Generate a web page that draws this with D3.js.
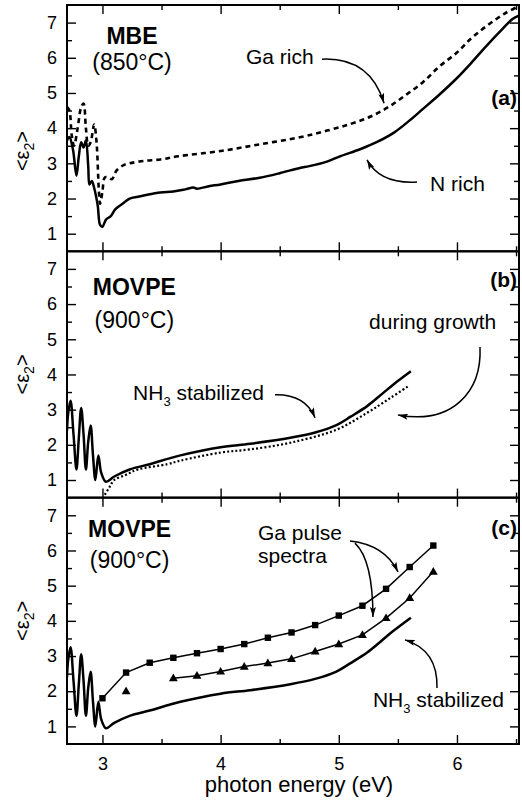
<!DOCTYPE html>
<html>
<head>
<meta charset="utf-8">
<script src="https://cdn.jsdelivr.net/npm/d3@7/dist/d3.min.js"></script>
<style>
  body { margin: 0; background: #fff; }
  #wrapper { width: 522px; height: 805px; }
  text { font-family: "Liberation Sans", Arial, sans-serif; fill: #000; }
</style>
</head>
<body>
<div id="wrapper"></div>
<script>
// 1. Data (photon energy in eV, <eps2>)
const mbeNRich = [
  [2.70,3.65],[2.72,3.75],[2.75,3.4],[2.78,2.65],[2.80,3.2],[2.82,3.6],[2.84,3.45],[2.86,3.65],
  [2.88,2.9],[2.89,2.4],[2.91,2.5],[2.93,2.3],[2.96,1.8],[2.98,1.25],[3.00,1.2],[3.03,1.4],
  [3.07,1.5],[3.11,1.7],[3.17,1.85],[3.23,2.0],[3.30,2.05],[3.37,2.1],[3.49,2.17],[3.60,2.2],
  [3.70,2.26],[3.77,2.31],[3.80,2.28],[3.90,2.35],[4.00,2.4],[4.15,2.5],[4.33,2.59],[4.50,2.72],
  [4.67,2.87],[4.75,2.92],[4.90,3.05],[5.01,3.2],[5.18,3.4],[5.32,3.6],[5.47,3.88],[5.60,4.22],
  [5.71,4.54],[5.85,4.95],[5.99,5.39],[6.12,5.85],[6.25,6.34],[6.38,6.8],[6.47,7.1],[6.525,7.2]
]
const mbeGaRich = [
  [2.70,4.6],[2.72,4.5],[2.74,3.8],[2.76,3.5],[2.79,4.0],[2.82,4.6],[2.84,4.7],[2.86,4.0],
  [2.88,3.5],[2.90,3.6],[2.93,4.1],[2.95,3.6],[2.97,2.2],[2.98,1.85],[3.00,2.2],[3.02,2.6],
  [3.05,2.6],[3.08,2.55],[3.12,2.8],[3.18,2.95],[3.23,3.0],[3.35,3.07],[3.49,3.11],[3.64,3.2],
  [4.00,3.35],[4.33,3.54],[4.67,3.74],[4.90,3.93],[5.10,4.12],[5.27,4.33],[5.42,4.6],[5.57,4.95],
  [5.71,5.3],[5.85,5.75],[6.00,6.15],[6.12,6.55],[6.25,6.9],[6.40,7.25],[6.525,7.47]
]
const movpeNH3 = [
  [2.70,2.4],[2.71,2.9],[2.73,3.25],[2.755,2.3],[2.78,1.3],[2.80,2.2],[2.82,3.05],[2.84,2.3],
  [2.86,1.3],[2.88,2.1],[2.90,2.55],[2.92,1.7],[2.94,1.0],[2.965,1.7],[2.99,1.2],[3.03,0.95],
  [3.10,1.1],[3.23,1.3],[3.40,1.45],[3.55,1.6],[3.66,1.7],[4.00,1.93],[4.25,2.03],[4.59,2.2],
  [4.80,2.35],[4.98,2.56],[5.10,2.8],[5.24,3.1],[5.35,3.4],[5.46,3.71],[5.61,4.09]
]
const movpeGrowth = [
  [3.02,0.58],[3.06,0.8],[3.10,1.0],[3.20,1.15],[3.30,1.3],[3.55,1.45],[3.66,1.55],[4.00,1.78],
  [4.25,1.87],[4.59,2.06],[4.98,2.43],[5.24,2.91],[5.44,3.34],[5.59,3.67]
]
const gaPulseSquares = [
  [3.0,1.8],[3.2,2.53],[3.4,2.81],[3.6,2.95],[3.8,3.08],[4.0,3.2],[4.2,3.34],[4.4,3.52],
  [4.6,3.67],[4.8,3.88],[5.0,4.15],[5.2,4.43],[5.4,4.91],[5.6,5.53],[5.8,6.14]
]
const gaPulseTriangles = [
  [3.2,2.0],[3.6,2.37],[3.8,2.44],[4.0,2.56],[4.2,2.7],[4.4,2.8],[4.6,2.92],[4.8,3.13],
  [5.0,3.34],[5.2,3.6],[5.4,4.08],[5.6,4.65],[5.8,5.4]
]
const triangleLineFrom = 3.6

const xDomain = [2.7, 6.525]
const xTicks = [3, 4, 5, 6]
const xMinorTicks = [3.5, 4.5, 5.5, 6.5]
const yDomain = [0.5, 7.5]
const yTicks = [1, 2, 3, 4, 5, 6, 7]
const yMinorTicks = [1.5, 2.5, 3.5, 4.5, 5.5, 6.5]
const panelLetters = ["(a)", "(b)", "(c)"]
const panelTitles = ["MBE", "MOVPE", "MOVPE"]
const panelTemps = ["(850°C)", "(900°C)", "(900°C)"]

// 2. Dimensions
let dimensions = {
  width: 522,
  height: 805,
  left: 67,
  right: 519,
  panelTops: [5, 251.3, 497.7],
  panelHeight: 246.3,
}

const wrapper = d3.select("#wrapper")
  .append("svg")
  .attr("width", dimensions.width)
  .attr("height", dimensions.height)

wrapper.append("defs").append("marker")
  .attr("id", "arrow")
  .attr("markerUnits", "userSpaceOnUse")
  .attr("viewBox", "0 0 10 6")
  .attr("refX", 10)
  .attr("refY", 3)
  .attr("markerWidth", 11)
  .attr("markerHeight", 6)
  .attr("orient", "auto")
  .append("path")
  .attr("d", "M0,0 L10,3 L0,6 L2,3 Z")
  .attr("fill", "#000")

const xScale = d3.scaleLinear()
  .domain(xDomain)
  .range([dimensions.left, dimensions.right])

const yScales = dimensions.panelTops.map(top => d3.scaleLinear()
  .domain(yDomain)
  .range([top + dimensions.panelHeight, top]))

const lineGen = y => d3.line()
  .x(d => xScale(d[0]))
  .y(d => y(d[1]))
  .curve(d3.curveCatmullRom.alpha(0.5))

const straightLine = y => d3.line()
  .x(d => xScale(d[0]))
  .y(d => y(d[1]))

const arrowPath = (y, pts) => {
  const p = pts.map(d => [xScale(d[0]), y(d[1])])
  if (p.length === 3) return `M${p[0]}Q${p[1]} ${p[2]}`
  return `M${p[0]}C${p[1]} ${p[2]} ${p[3]}`
}

// annotations in data coordinates
const annotations = [
  {
    texts: [
      { t: "Ga rich", x: 4.215, y: 5.82, anchor: "start" },
      { t: "N rich", x: 5.772, y: 2.21, anchor: "start" },
    ],
    arrows: [
      [[4.858,5.96],[5.264,6.02],[5.383,4.71]],
      [[5.662,2.47],[5.349,2.41],[5.239,3.10]],
    ],
    titleX: 3.25, titleY: 6.39, tempY: 5.65, letterY: 4.66, labelY: 3.35,
  },
  {
    texts: [
      { t: "NH", sub: "3", rest: " stabilized", x: 3.259, y: 3.27, anchor: "start" },
      { t: "during growth", x: 5.256, y: 5.29, anchor: "start" },
    ],
    arrows: [
      [[4.46,3.42],[4.714,3.44],[4.799,2.77]],
      [[6.195,4.78],[6.212,3.50],[5.958,2.56],[5.501,2.85]],
    ],
    titleX: 3.27, titleY: 6.26, tempY: 5.32, letterY: 6.49, labelY: 4.0,
  },
  {
    texts: [
      { t: "Ga pulse", x: 4.316, y: 6.30, anchor: "start" },
      { t: "spectra", x: 4.316, y: 5.64, anchor: "start" },
      { t: "NH", sub: "3", rest: " stabilized", x: 5.289, y: 1.55, anchor: "start" },
    ],
    arrows: [
      [[5.095,6.27],[5.391,6.16],[5.501,5.39]],
      [[5.137,6.21],[5.289,5.73],[5.289,4.11]],
      [[5.831,2.09],[5.840,3.17],[5.560,3.46]],
    ],
    titleX: 3.23, titleY: 6.38, tempY: 5.50, letterY: 6.44, labelY: 4.0,
  },
]

// 3. Panels
yScales.forEach((yScale, i) => {
  const top = dimensions.panelTops[i]
  const bottom = top + dimensions.panelHeight
  const g = wrapper.append("g")

  g.append("clipPath").attr("id", `clip${i}`)
    .append("rect")
    .attr("x", dimensions.left).attr("y", top)
    .attr("width", dimensions.right - dimensions.left)
    .attr("height", dimensions.panelHeight)

  // ticks, inward on all four sides
  const tickLen = 9, minorLen = 5
  g.append("g").attr("transform", `translate(${dimensions.left},0)`)
    .call(d3.axisLeft(yScale).tickValues(yTicks).tickSize(-tickLen).tickPadding(10).tickFormat(d3.format("d")))
    .call(a => a.select(".domain").remove())
    .call(a => a.selectAll("text").style("font-size", "18px").style("font-family", "Liberation Sans, Arial, sans-serif"))
  g.append("g").attr("transform", `translate(${dimensions.left},0)`)
    .call(d3.axisLeft(yScale).tickValues(yMinorTicks).tickSize(-minorLen).tickFormat(""))
    .call(a => a.select(".domain").remove())
  g.append("g").attr("transform", `translate(${dimensions.right},0)`)
    .call(d3.axisRight(yScale).tickValues(yTicks).tickSize(-tickLen).tickFormat(""))
    .call(a => a.select(".domain").remove())
  g.append("g").attr("transform", `translate(${dimensions.right},0)`)
    .call(d3.axisRight(yScale).tickValues(yMinorTicks).tickSize(-minorLen).tickFormat(""))
    .call(a => a.select(".domain").remove())
  g.append("g").attr("transform", `translate(0,${top})`)
    .call(d3.axisTop(xScale).tickValues(xTicks).tickSize(-tickLen).tickFormat(""))
    .call(a => a.select(".domain").remove())
  g.append("g").attr("transform", `translate(0,${top})`)
    .call(d3.axisTop(xScale).tickValues(xMinorTicks).tickSize(-minorLen).tickFormat(""))
    .call(a => a.select(".domain").remove())
  g.append("g").attr("transform", `translate(0,${bottom})`)
    .call(d3.axisBottom(xScale).tickValues(xTicks).tickSize(-tickLen).tickPadding(13)
      .tickFormat(i === 2 ? d3.format("d") : ""))
    .call(a => a.select(".domain").remove())
    .call(a => a.selectAll("text").style("font-size", "18px").style("font-family", "Liberation Sans, Arial, sans-serif"))
  g.append("g").attr("transform", `translate(0,${bottom})`)
    .call(d3.axisBottom(xScale).tickValues(xMinorTicks).tickSize(-minorLen).tickFormat(""))
    .call(a => a.select(".domain").remove())
  g.selectAll(".tick line").attr("stroke", "#000").attr("stroke-width", 1.4)

  // frame
  g.append("rect")
    .attr("x", dimensions.left).attr("y", top)
    .attr("width", dimensions.right - dimensions.left)
    .attr("height", dimensions.panelHeight)
    .attr("fill", "none").attr("stroke", "#000").attr("stroke-width", 2)

  // y label
  const ann = annotations[i]
  const ylab = g.append("text")
    .attr("transform", `translate(29,${yScale(ann.labelY)}) rotate(-90)`)
    .attr("text-anchor", "middle")
    .style("font-size", "20px")
  ylab.append("tspan").text("<ε")
  ylab.append("tspan").attr("dy", 5).style("font-size", "14px").text("2")
  ylab.append("tspan").attr("dy", -5).text(">")

  // titles
  g.append("text")
    .attr("x", xScale(ann.titleX)).attr("y", yScale(ann.titleY))
    .attr("text-anchor", "middle")
    .style("font-size", "23px").style("font-weight", "bold")
    .text(panelTitles[i])
  g.append("text")
    .attr("x", xScale(ann.titleX)).attr("y", yScale(ann.tempY))
    .attr("text-anchor", "middle")
    .style("font-size", "23px")
    .text(panelTemps[i])
  g.append("text")
    .attr("x", dimensions.right - 2).attr("y", yScale(ann.letterY))
    .attr("text-anchor", "end")
    .style("font-size", "21px").style("font-weight", "bold")
    .text(panelLetters[i])

  ann.texts.forEach(d => {
    const t = g.append("text")
      .attr("x", xScale(d.x)).attr("y", yScale(d.y))
      .attr("text-anchor", d.anchor)
      .style("font-size", "21px")
    t.append("tspan").text(d.t)
    if (d.sub) {
      t.append("tspan").attr("dy", 6).style("font-size", "13px").text(d.sub)
      t.append("tspan").attr("dy", -6).text(d.rest)
    }
  })
  ann.arrows.forEach(pts => {
    g.append("path")
      .attr("d", arrowPath(yScale, pts))
      .attr("fill", "none").attr("stroke", "#000").attr("stroke-width", 1.5)
      .attr("marker-end", "url(#arrow)")
  })

  // data
  const plot = g.append("g").attr("clip-path", `url(#clip${i})`)
  if (i === 0) {
    plot.append("path").attr("d", lineGen(yScale)(mbeGaRich))
      .attr("fill", "none").attr("stroke", "#000").attr("stroke-width", 2.6)
      .attr("stroke-dasharray", "5,4")
    plot.append("path").attr("d", lineGen(yScale)(mbeNRich))
      .attr("fill", "none").attr("stroke", "#000").attr("stroke-width", 2.5)
  }
  if (i === 1) {
    plot.append("path").attr("d", lineGen(yScale)(movpeGrowth))
      .attr("fill", "none").attr("stroke", "#000").attr("stroke-width", 2.2)
      .attr("stroke-dasharray", "2,2.2")
    plot.append("path").attr("d", lineGen(yScale)(movpeNH3))
      .attr("fill", "none").attr("stroke", "#000").attr("stroke-width", 2.5)
  }
  if (i === 2) {
    plot.append("path").attr("d", lineGen(yScale)(movpeNH3))
      .attr("fill", "none").attr("stroke", "#000").attr("stroke-width", 2.5)
    plot.append("path").attr("d", straightLine(yScale)(gaPulseSquares))
      .attr("fill", "none").attr("stroke", "#000").attr("stroke-width", 1.5)
    plot.append("path").attr("d", straightLine(yScale)(gaPulseTriangles.filter(d => d[0] >= triangleLineFrom)))
      .attr("fill", "none").attr("stroke", "#000").attr("stroke-width", 1.5)
    plot.selectAll(".sq").data(gaPulseSquares).enter().append("rect")
      .attr("x", d => xScale(d[0]) - 3.2).attr("y", d => yScale(d[1]) - 3.2)
      .attr("width", 6.4).attr("height", 6.4).attr("fill", "#000")
    plot.selectAll(".tri").data(gaPulseTriangles).enter().append("path")
      .attr("d", d3.symbol(d3.symbolTriangle, 34))
      .attr("transform", d => `translate(${xScale(d[0])},${yScale(d[1]) + 0.5})`)
      .attr("fill", "#000")
  }
})

// x axis title
wrapper.append("text")
  .attr("x", (dimensions.left + dimensions.right) / 2 + 6)
  .attr("y", 792)
  .attr("text-anchor", "middle")
  .style("font-size", "22px")
  .text("photon energy (eV)")
</script>
</body>
</html>
